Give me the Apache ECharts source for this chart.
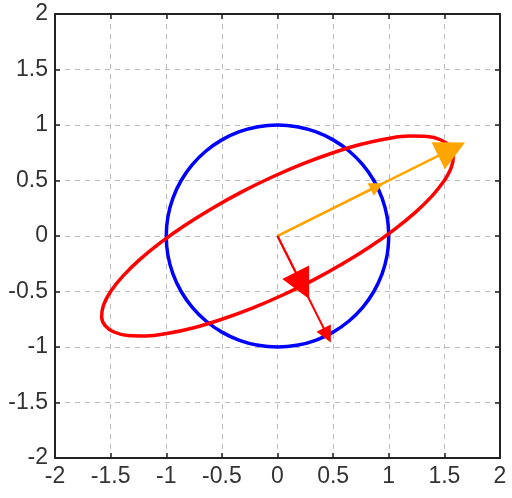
<!DOCTYPE html>
<html>
<head>
<meta charset="utf-8">
<script src="https://cdn.jsdelivr.net/npm/echarts@6/dist/echarts.min.js"></script>
<style>
html,body{margin:0;padding:0;background:#fff;}
#main{width:512px;height:498px;}
</style>
</head>
<body>
<div id="main"></div>
<script>
// unit circle (blue)
var circlePts = [
	[1,0],[0.985,0.174],[0.940,0.342],[0.866,0.5],[0.766,0.643],[0.643,0.766],
	[0.5,0.866],[0.342,0.940],[0.174,0.985],[0,1],[-0.174,0.985],[-0.342,0.940],
	[-0.5,0.866],[-0.643,0.766],[-0.766,0.643],[-0.866,0.5],[-0.940,0.342],[-0.985,0.174],
	[-1,0],[-0.985,-0.174],[-0.940,-0.342],[-0.866,-0.5],[-0.766,-0.643],[-0.643,-0.766],
	[-0.5,-0.866],[-0.342,-0.940],[-0.174,-0.985],[0,-1],[0.174,-0.985],[0.342,-0.940],
	[0.5,-0.866],[0.643,-0.766],[0.766,-0.643],[0.866,-0.5],[0.940,-0.342],[0.985,-0.174],
	[1,0]
];

// transformed circle (red ellipse)
var ellipsePts = [
	[1.5,0.5],[1.564,0.623],[1.581,0.727],[1.549,0.808],[1.470,0.865],[1.347,0.896],
	[1.183,0.900],[0.983,0.876],[0.752,0.826],[0.5,0.75],[0.232,0.652],[-0.043,0.534],
	[-0.317,0.400],[-0.581,0.253],[-0.828,0.099],[-1.049,-0.058],[-1.239,-0.213],[-1.390,-0.362],
	[-1.5,-0.5],[-1.564,-0.623],[-1.581,-0.727],[-1.549,-0.808],[-1.470,-0.865],[-1.347,-0.896],
	[-1.183,-0.900],[-0.983,-0.876],[-0.752,-0.826],[-0.5,-0.75],[-0.232,-0.652],[0.043,-0.534],
	[0.317,-0.400],[0.581,-0.253],[0.828,-0.099],[1.049,0.058],[1.239,0.213],[1.390,0.362],
	[1.5,0.5]
];

// eigenvectors and their images
var origin = [0,0];
var v1 = [0.894,0.447];
var Av1 = [1.565,0.783];
var v2 = [0.447,-0.894];
var Av2 = [0.224,-0.447];

var axisMin = -2, axisMax = 2, step = 0.5;

var dom = document.getElementById('main');
var myChart = echarts.init(dom);

var labelFont = {
	color : '#333',
	fontSize : 23,
	fontFamily : 'Liberation Sans, Arial, sans-serif'
};

function valAxis(pos, showLabel, showGrid) {
	return {
		type : 'value',
		position : pos,
		min : axisMin,
		max : axisMax,
		interval : step,
		axisLine : { show : true, onZero : false, lineStyle : { color : '#222', width : 2 } },
		axisTick : { show : true, inside : true, length : 5, lineStyle : { color : '#222', width : 1.5 } },
		axisLabel : showLabel ? echarts.util.extend({ show : true, margin : 7 }, labelFont) : { show : false },
		splitLine : { show : showGrid, lineStyle : { color : '#bbb', type : [5, 5], width : 1 } }
	};
}

function arrow(from, to, color, width, size) {
	return {
		type : 'lines',
		coordinateSystem : 'cartesian2d',
		xAxisIndex : 0,
		yAxisIndex : 0,
		symbol : ['none', 'triangle'],
		symbolSize : size,
		lineStyle : { color : color, width : width, opacity : 1 },
		z : 5,
		data : [ { coords : [from, to] } ]
	};
}

var option = {
	backgroundColor : '#fff',
	animation : false,
	grid : { left : 55, right : 12, top : 14, bottom : 40 },
	xAxis : [ valAxis('bottom', true, true), valAxis('top', false, false) ],
	yAxis : [ valAxis('left', true, true), valAxis('right', false, false) ],
	series : [
		{
			type : 'line',
			data : circlePts,
			showSymbol : false,
			symbol : 'none',
			smooth : 0.4,
			lineStyle : { color : '#0000ff', width : 3.5 },
			z : 3
		},
		{
			type : 'line',
			data : ellipsePts,
			showSymbol : false,
			symbol : 'none',
			smooth : 0.4,
			lineStyle : { color : '#ff0000', width : 3.5 },
			z : 3
		},
		arrow(origin, Av1, '#ffa500', 2.5, 30),
		arrow(origin, v1, '#ffa500', 2.5, 14),
		arrow(origin, v2, '#ff0000', 2, 16),
		arrow(origin, Av2, '#ff0000', 2, 30)
	]
};

myChart.setOption(option, true);
</script>
</body>
</html>
